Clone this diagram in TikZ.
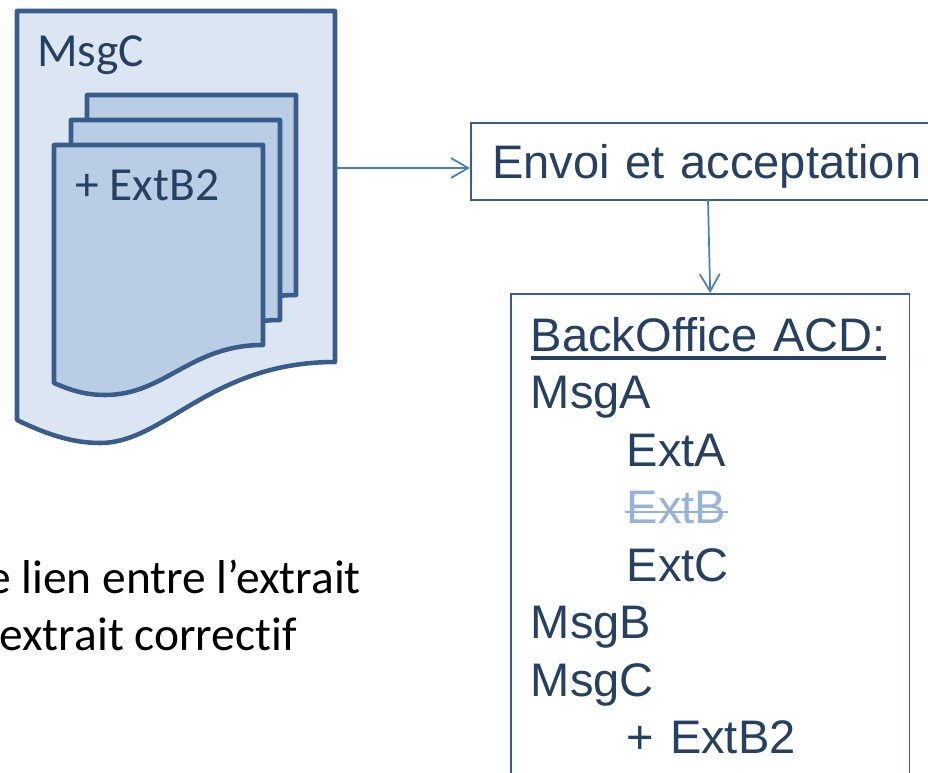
\documentclass[tikz,border=0pt]{standalone}
\usepackage{fontspec}
\usetikzlibrary{arrows.meta, positioning}
\setmainfont{Liberation Sans}
\newfontfamily\docfont[Ligatures=NoCommon]{Carlito}
\definecolor{darktext}{HTML}{254061}
\definecolor{shapeline}{HTML}{385D8A}
\definecolor{linkline}{HTML}{4A7EBB}
\definecolor{paleblue}{HTML}{DCE6F2}
\definecolor{midblue}{HTML}{B9CDE5}
\definecolor{struckblue}{HTML}{95B3D7}
\newcommand{\ruledword}[1]{\setbox0\hbox{#1}\rlap{\rule[-6.75pt]{\wd0}{3pt}}\box0}
\newcommand{\struckword}[1]{\setbox0\hbox{#1}\rlap{\kern-1.5pt\rule[7.9pt]{\dimexpr\wd0+3pt}{1.8pt}}\box0}

\begin{document}
\begin{tikzpicture}[x=0.75pt, y=-0.75pt,
    docshape/.style={draw=shapeline, line width=3.4pt, line join=round},
    doclabel/.style={anchor=base west, inner sep=0pt, text=darktext, font=\docfont\fontsize{35.6}{43}\selectfont},
    notelabel/.style={anchor=base east, inner sep=0pt, text=black, font=\docfont\fontsize{35.6}{43}\selectfont},
    textbox/.style={shape=rectangle, draw=shapeline, line width=1.3pt, text=darktext, align=left},
    link/.style={draw=linkline, line width=1.3pt, -{Straight Barb[length=13pt,width=15pt,line width=1.3pt]}}]
    \useasboundingbox (0,0) rectangle (928,773);
    \clip (0,0) rectangle (928,773);

    \draw[docshape, fill=paleblue] (17,11) -- (335,11) -- (335,362) .. controls (210,362) and (165,443) .. (100,443) .. controls (75,443) and (50,436) .. (17,420) -- cycle;
    \foreach \dx/\dy in {33/-50, 17/-25, 0/0}
      \draw[docshape, fill=midblue, shift={(\dx,\dy)}] (54,145) -- (263,145) -- (263,345) .. controls (190,345) and (165,395) .. (105,395) .. controls (85,395) and (70,390) .. (54,383) -- cycle;

    \node[doclabel] (msgc) at (37,67) {MsgC};
    \node[doclabel] (extb) at (75,201) {+ ExtB2};
    \coordinate (docout) at (336,168);

    \node[notelabel] (note1) at (361,593) {e lien entre l’extrait};
    \node[notelabel] (note2) at (297,650) {extrait correctif};

    \node[textbox, anchor=north west, font=\fontsize{35.3}{43.1}\selectfont, inner xsep=16pt, inner ysep=0pt, text height=42pt, text depth=15.75pt, text width=400pt] (envoi) at (470,122) {Envoi et acceptation};
    \coordinate (envoiout) at (708,200);

    \node[textbox, anchor=north west, font=\fontsize{35.3}{43.1}\selectfont, inner xsep=15pt, inner ysep=17.6pt, text width=269pt] (office) at (510,293) {\ruledword{BackOffice ACD:}\\
      MsgA\\
      \hspace*{72pt}ExtA\\
      \hspace*{72pt}\textcolor{struckblue}{\struckword{ExtB}}\\
      \hspace*{72pt}ExtC\\
      MsgB\\
      MsgC\\
      \hspace*{72pt}+ ExtB2};

    \draw[link] (docout) -- (envoi.west |- docout);
    \draw[link] (envoiout) -- (office.north);
\end{tikzpicture}
\end{document}
